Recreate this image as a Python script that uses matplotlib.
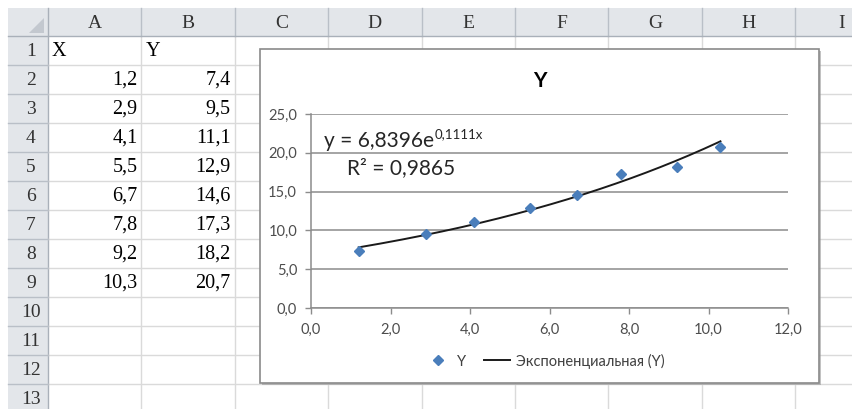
import numpy as np
import matplotlib
matplotlib.use("Agg")
import matplotlib.pyplot as plt
from matplotlib.patches import Rectangle, Polygon
from matplotlib.lines import Line2D
from matplotlib.ticker import FuncFormatter, MultipleLocator

# ---- data ----
col_letters = ["A", "B", "C", "D", "E", "F", "G", "H", "I"]
row_numbers = list(range(1, 14))
header_x = "X"
header_y = "Y"
x_vals = [1.2, 2.9, 4.1, 5.5, 6.7, 7.8, 9.2, 10.3]
y_vals = [7.4, 9.5, 11.1, 12.9, 14.6, 17.3, 18.2, 20.7]
fit_a = 6.8396
fit_b = 0.1111
fit_r2 = 0.9865
chart_title = "Y"
trend_label = "Экспоненциальная (Y)"


def comma(v, digits=1):
    return f"{v:.{digits}f}".replace(".", ",")


W, H = 852, 409
fig = plt.figure(figsize=(W / 100, H / 100), dpi=100)
fig.patch.set_facecolor("white")

# ---- worksheet background in pixel coordinates ----
bg = fig.add_axes([0, 0, 1, 1])
bg.set_xlim(0, W)
bg.set_ylim(H, 0)
bg.axis("off")

sheet_left, sheet_top = 8, 8
head_bottom = 36
row_h = 29
row_head_right = 48
col_w = 93.4
col_edges = [row_head_right + col_w * k for k in range(len(col_letters) + 1)]

head_fill = "#E3E6EA"
grid_c = "#DADADA"
head_line = "#B9BFC7"

bg.add_patch(Rectangle((sheet_left, sheet_top), W - sheet_left, head_bottom - sheet_top,
                       fc=head_fill, ec="none", zorder=1))
bg.add_patch(Rectangle((sheet_left, head_bottom), row_head_right - sheet_left, H - head_bottom,
                       fc=head_fill, ec="none", zorder=1))

# cell gridlines
for xe in col_edges[1:]:
    bg.plot([xe, xe], [head_bottom, H], color=grid_c, lw=1, zorder=2)
    bg.plot([xe, xe], [sheet_top, head_bottom], color=head_line, lw=1, zorder=2)
bg.plot([row_head_right, row_head_right], [sheet_top, H], color="#A9B0B9", lw=1, zorder=2)
for k in range(1, len(row_numbers) + 1):
    yy = head_bottom + row_h * k
    bg.plot([row_head_right, W], [yy, yy], color=grid_c, lw=1, zorder=2)
    bg.plot([sheet_left, row_head_right], [yy, yy], color=head_line, lw=1, zorder=2)
bg.plot([sheet_left, W], [head_bottom, head_bottom], color="#A9B0B9", lw=1, zorder=2)

# select-all triangle in the corner cell
bg.add_patch(Polygon([[29, 33], [44, 33], [44, 18]], closed=True, fc="#C3C8CF", ec="none", zorder=3))

serif = "Liberation Serif"
for i, letter in enumerate(col_letters):
    cx = (col_edges[i] + col_edges[i + 1]) / 2
    bg.text(cx, (sheet_top + head_bottom) / 2 + 1, letter, ha="center", va="center",
            family=serif, fontsize=14, color="#333333", zorder=3)
for k in row_numbers:
    cy = head_bottom + row_h * (k - 0.5)
    bg.text(31, cy + 1, str(k), ha="center", va="center",
            family=serif, fontsize=14, color="#333333", zorder=3)

bg.text(col_edges[0] + 4, head_bottom + row_h * 0.5 + 1, header_x, ha="left", va="center",
        family=serif, fontsize=14.5, color="black", zorder=3)
bg.text(col_edges[1] + 4, head_bottom + row_h * 0.5 + 1, header_y, ha="left", va="center",
        family=serif, fontsize=14.5, color="black", zorder=3)
for i, (xv, yv) in enumerate(zip(x_vals, y_vals)):
    cy = head_bottom + row_h * (i + 1.5) + 1
    bg.text(col_edges[1] - 4, cy, comma(xv), ha="right", va="center",
            family=serif, fontsize=14.5, color="black", zorder=3)
    bg.text(col_edges[2] - 4, cy, comma(yv), ha="right", va="center",
            family=serif, fontsize=14.5, color="black", zorder=3)

# ---- embedded chart frame ----
cx0, cy0, cx1, cy1 = 260, 49, 819, 383
bg.add_patch(Rectangle((cx0 + 2, cy0 + 2), cx1 - cx0, cy1 - cy0, fc="#9A9A9A", ec="none",
                       alpha=0.6, zorder=4))
bg.add_patch(Rectangle((cx0, cy0), cx1 - cx0, cy1 - cy0, fc="white", ec="#8A8A8A", lw=1.2, zorder=5))

sans = ["Lato", "Open Sans", "DejaVu Sans"]

# ---- plot area ----
px0, px1, py_top, py_bot = 311, 788, 114, 308
ax = fig.add_axes([px0 / W, 1 - py_bot / H, (px1 - px0) / W, (py_bot - py_top) / H])
ax.patch.set_alpha(0)
ax.set_xlim(0, 12)
ax.set_ylim(0, 25)
ax.xaxis.set_major_locator(MultipleLocator(2))
ax.yaxis.set_major_locator(MultipleLocator(5))
ax.xaxis.set_major_formatter(FuncFormatter(lambda v, p: comma(v)))
ax.yaxis.set_major_formatter(FuncFormatter(lambda v, p: comma(v)))
ax.grid(axis="y", color="#8C8C8C", lw=1.1)
ax.set_axisbelow(True)
for s in ("top", "right"):
    ax.spines[s].set_visible(False)
for s in ("left", "bottom"):
    ax.spines[s].set_color("#8C8C8C")
    ax.spines[s].set_linewidth(1.1)
ax.tick_params(direction="out", length=4, width=1, color="#8C8C8C",
               labelsize=10.5, labelcolor="#4D4D4D")
ax.tick_params(axis="y", pad=6)
ax.tick_params(axis="x", pad=7)
for lab in ax.get_xticklabels() + ax.get_yticklabels():
    lab.set_family(sans)

xs = np.linspace(min(x_vals), max(x_vals), 200)
ax.plot(xs, fit_a * np.exp(fit_b * xs), color="#1A1A1A", lw=1.4, zorder=3)
ax.plot(x_vals, y_vals, ls="none", marker="D", markersize=5.4, color="#4A7EBB",
        mec="#4A7EBB", zorder=4, clip_on=False)

# title
ax.text((cx0 + cx1) / 2, 81, chart_title, transform=bg.transData, ha="center", va="center",
        family=sans, fontsize=15, fontweight="bold", color="black")

# trendline equation
eq = ax.text(324, 147, "y = " + comma(fit_a, 4) + "e", transform=bg.transData,
             ha="left", va="baseline", family=sans, fontsize=15, color="#262626")
fig.canvas.draw()
bb = eq.get_window_extent()
ax.text(bb.x1 + 1, H - 138, comma(fit_b, 4) + "x", transform=None,
        ha="left", va="baseline", family=sans, fontsize=9.5, color="#262626")
ax.text(347, 174, "R² = " + comma(fit_r2, 4), transform=bg.transData,
        ha="left", va="baseline", family=sans, fontsize=15, color="#262626")

# legend
handles = [
    Line2D([], [], ls="none", marker="D", markersize=5.4, color="#4A7EBB"),
    Line2D([], [], color="#1A1A1A", lw=1.4),
]
fig.legend(handles, [header_y, trend_label], loc="center",
           bbox_to_anchor=(545 / W, 1 - 361 / H), ncol=2, frameon=False,
           prop={"family": sans, "size": 10.5}, labelcolor="#404040",
           handlelength=1.8, handletextpad=0.4, columnspacing=1.2)

fig.savefig("out.png", dpi=100)
